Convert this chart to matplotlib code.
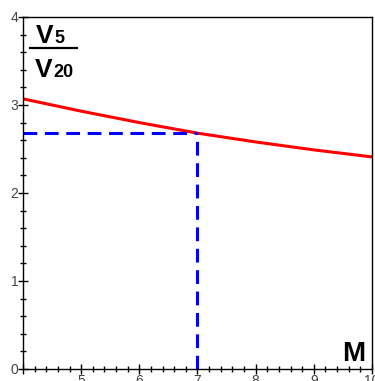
import matplotlib.pyplot as plt
from matplotlib.ticker import MultipleLocator

# values
m_values = [4, 5, 6, 7, 8, 9, 10]
ratio_values = [3.07, 2.93, 2.80, 2.68, 2.58, 2.49, 2.41]
marked_m = 7
marked_ratio = 2.68
x_ticks = [4, 5, 6, 7, 8, 9, 10]
x_tick_labels = ["", "5", "6", "7", "8", "9", "10"]
y_ticks = [0, 1, 2, 3, 4]
y_tick_labels = ["0", "1", "2", "3", "4"]

W, H = 375, 381
fig = plt.figure(figsize=(W / 100, H / 100), dpi=100)
ax = fig.add_axes([23 / W, 1 - 369 / H, (372 - 23) / W, (369 - 17) / H])

ax.plot(m_values, ratio_values, color="#ff0000", lw=2.2, solid_capstyle="butt")
ax.plot([m_values[0], marked_m], [marked_ratio, marked_ratio],
        color="#0000ff", lw=2.2, dashes=(4.5, 2.5))
ax.plot([marked_m, marked_m], [0, marked_ratio],
        color="#0000ff", lw=2.2, dashes=(4.5, 2.5))

ax.set_xlim(4, 10)
ax.set_ylim(0, 4)
ax.set_xticks(x_ticks)
ax.set_xticklabels(x_tick_labels)
ax.set_yticks(y_ticks)
ax.set_yticklabels(y_tick_labels)
ax.xaxis.set_minor_locator(MultipleLocator(0.2))
ax.yaxis.set_minor_locator(MultipleLocator(0.2))
ax.tick_params(which="major", direction="inout", length=7, width=1,
               labelsize=10, labelcolor="#444444", pad=0)
ax.tick_params(which="minor", direction="inout", length=5, width=1)
for lab in ax.get_xticklabels() + ax.get_yticklabels():
    lab.set_family("Liberation Sans")
for s in ax.spines.values():
    s.set_linewidth(1)
    s.set_color("black")


def px(x, y):
    return x / W, 1 - y / H


# V5 / V20 label
lbl = dict(family="Liberation Sans", weight="bold", va="baseline")
fig.text(*px(36, 43), "V", fontsize=19, **lbl)
fig.text(*px(54, 43), "5", fontsize=13, **lbl)
fig.add_artist(plt.Line2D([30 / W, 77 / W], [1 - 48 / H, 1 - 48 / H],
                          color="black", lw=1.6))
fig.text(*px(35, 77), "V", fontsize=19, **lbl)
fig.text(*px(53, 77), "20", fontsize=13, **lbl)

fig.text(*px(342, 361), "M", fontsize=20, family="Liberation Sans",
         weight="bold", va="baseline")

fig.savefig("out.png", dpi=100)
